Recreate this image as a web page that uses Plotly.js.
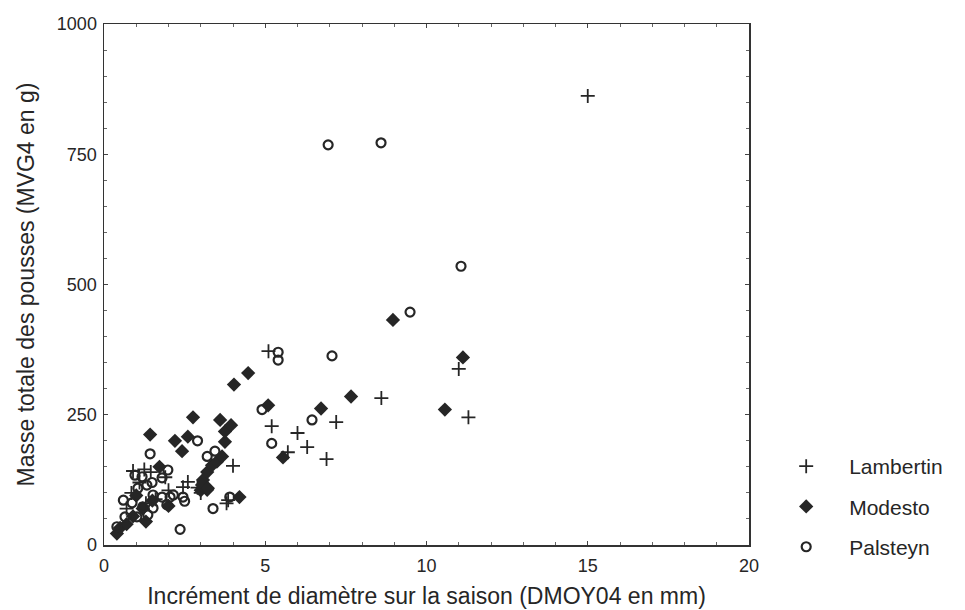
<!DOCTYPE html>
<html>
<head>
<meta charset="utf-8">
<script src="https://cdn.plot.ly/plotly-3.0.1.min.js"></script>
<style>
  html, body { margin: 0; padding: 0; background: #fff; }
  #chart { width: 965px; height: 610px; }
</style>
</head>
<body>
<div id="chart"></div>
<script>
// Shoot mass (g) against seasonal diameter increment (mm), three cultivars
const lambertinX = [15.0, 11.3, 11.0, 8.6, 7.2, 6.9, 6.3, 6.0, 5.2, 5.1, 5.7, 4.0, 3.8, 3.85,
  0.9, 1.25, 1.45, 0.85, 2.6, 2.45, 1.1, 1.6, 2.0, 3.0, 0.7, 1.3, 2.9, 1.9];
const lambertinY = [862, 245, 338, 282, 236, 165, 188, 215, 228, 372, 178, 152, 80, 86,
  142, 145, 140, 100, 121, 111, 120, 88, 105, 100, 70, 80, 110, 130];

const modestoX = [0.4, 0.5, 0.7, 0.9, 1.2, 1.5, 1.72, 1.43, 2.2, 2.42, 2.6, 2.76, 3.0, 3.07,
  3.2, 3.2, 3.35, 3.5, 3.66, 3.75, 3.75, 3.6, 3.94, 4.03, 4.47, 5.09, 5.55, 6.73, 7.66,
  8.96, 10.57, 11.13, 4.2, 1.0, 1.3, 2.0, 3.04, 3.22];
const modestoY = [22, 33, 40, 55, 70, 85, 150, 212, 200, 180, 208, 245, 105, 125,
  106, 140, 153, 160, 170, 198, 218, 240, 230, 308, 330, 268, 168, 262, 285,
  432, 260, 360, 92, 95, 45, 75, 115, 109];

const palsteynX = [6.95, 8.59, 11.07, 9.49, 7.07, 5.4, 5.4, 4.9, 6.45, 5.2, 3.44, 2.9, 1.43,
  3.38, 2.36, 3.9, 0.96, 1.18, 1.49, 1.8, 1.98, 1.05, 1.33, 1.52, 1.8, 2.05, 0.6, 0.87,
  1.2, 1.52, 1.95, 0.65, 1.02, 1.36, 2.15, 2.45, 2.5, 0.4, 3.2];
const palsteynY = [768, 772, 535, 447, 363, 370, 355, 260, 240, 195, 180, 200, 175,
  70, 30, 92, 134, 131, 120, 129, 144, 109, 115, 96, 92, 92, 86, 81,
  73, 71, 77, 54, 54, 58, 96, 92, 84, 35, 170];

const ink = '#262626';
const font = 'Liberation Sans, Arial, sans-serif';

const traces = [
  {
    x: lambertinX, y: lambertinY, name: 'Lambertin', legendgroup: 'a',
    type: 'scatter', mode: 'markers',
    marker: { symbol: 'cross-thin-open', size: 10, color: ink, line: { color: ink, width: 1.8 } }
  },
  {
    x: modestoX, y: modestoY, name: 'Modesto', legendgroup: 'b',
    type: 'scatter', mode: 'markers',
    marker: { symbol: 'diamond', size: 11, color: ink, line: { width: 0 } }
  },
  {
    x: palsteynX, y: palsteynY, name: 'Palsteyn', legendgroup: 'c',
    type: 'scatter', mode: 'markers',
    marker: { symbol: 'circle-open', size: 9, color: ink, line: { color: ink, width: 2.2 } }
  }
];

const axisCommon = {
  showgrid: false, zeroline: false,
  showline: true, linecolor: '#333', linewidth: 1.5, mirror: 'allticks',
  ticks: 'inside', ticklen: 4, tickcolor: '#444', tickwidth: 1,
  tickfont: { family: font, size: 18, color: ink },
  minor: { ticks: 'inside', ticklen: 3, tickcolor: '#666', tickwidth: 1 }
};

const layout = {
  width: 965, height: 610,
  margin: { l: 104, r: 216, t: 24, b: 65 },
  paper_bgcolor: '#fff', plot_bgcolor: '#fff',
  font: { family: font, color: ink },
  showlegend: true,
  legend: {
    x: 1.022, xanchor: 'left', y: 0.19, yanchor: 'top',
    font: { family: font, size: 21, color: ink },
    tracegroupgap: 10, itemwidth: 76, bgcolor: 'rgba(0,0,0,0)'
  },
  xaxis: Object.assign({}, axisCommon, {
    range: [0, 20], tickvals: [0, 5, 10, 15, 20], ticktext: ['0', '5', '10', '15', '20'],
    ticklabelstandoff: 4,
    minor: Object.assign({}, axisCommon.minor, { dtick: 1 }),
    title: { text: 'Incrément de diamètre sur la saison (DMOY04 en mm)', standoff: 13,
      font: { family: font, size: 23, color: ink } }
  }),
  yaxis: Object.assign({}, axisCommon, {
    range: [0, 1000], tickvals: [0, 250, 500, 750, 1000],
    ticktext: ['0', '250', '500', '750', '1000'],
    ticklabelstandoff: 2,
    minor: Object.assign({}, axisCommon.minor, { dtick: 50 }),
    title: { text: 'Masse totale des pousses (MVG4 en g)', standoff: 16,
      font: { family: font, size: 23, color: ink } }
  })
};

Plotly.newPlot('chart', traces, layout, { displayModeBar: false, staticPlot: true });
</script>
</body>
</html>
